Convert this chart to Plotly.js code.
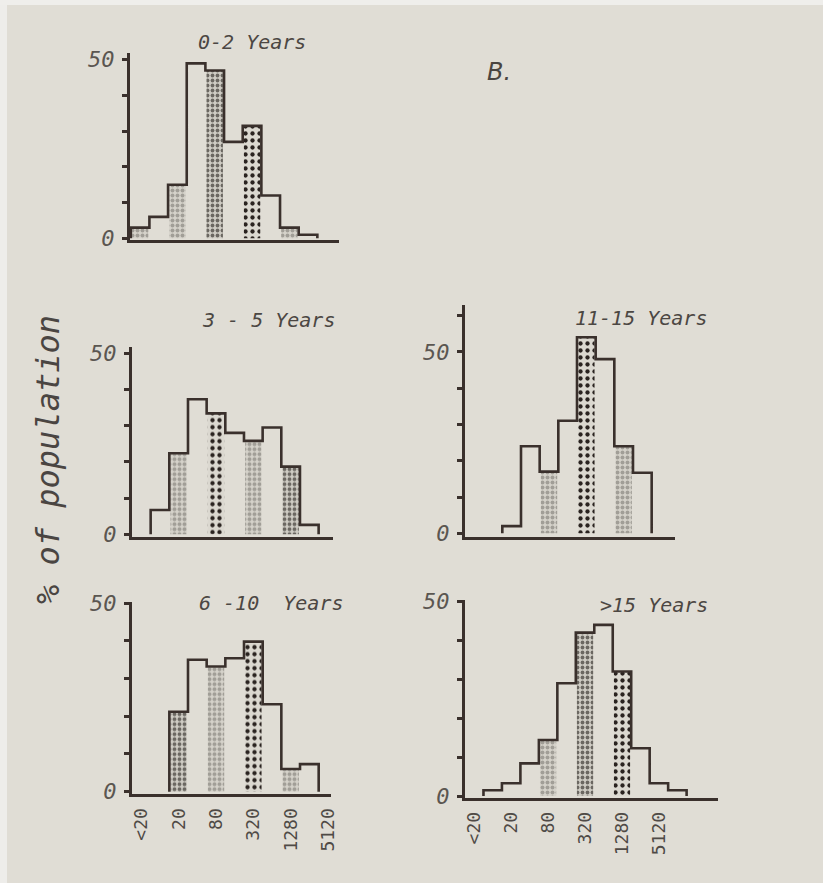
<!DOCTYPE html>
<html>
<head>
<meta charset="utf-8">
<script src="https://cdn.plot.ly/plotly-3.0.1.min.js"></script>
<style>
  html, body { margin: 0; padding: 0; background: #e0ddd5; }
  #chart { width: 823px; height: 883px; }
</style>
</head>
<body>
<div id="chart"></div>
<script>
// ---- Data (percent of population per titre bin; bins are successive 2-fold dilutions) ----
const tickLabels = ['<20', '20', '80', '320', '1280', '5120'];
const tickBins   = [0, 2, 4, 6, 8, 10];

const titles = ['0-2 Years', '3 - 5 Years', '11-15 Years', '6 -10  Years', '>15 Years'];

const age0to2   = [3, 6, 15, 49, 47, 27, 31.5, 12, 3, 1];
const age3to5   = [0, 6.7, 22.4, 37.3, 33.4, 28, 25.8, 29.5, 18.7, 2.6];
const age11to15 = [0, 0, 2, 24, 17, 31, 54, 48, 24, 16.7];
const age6to10  = [0, 0, 21.2, 35, 33.2, 35.4, 39.8, 23.2, 6, 7.3];
const ageOver15 = [0, 1.5, 3.3, 8.4, 14.4, 29, 42, 44, 32, 12.3, 3.3, 1.5];

// ---- Styling / layout (not data) ----
const W = 823, H = 883;
const ink = '#3a302c';
const patterns = {
  light:  { shape: '.', fgcolor: '#a19e97', bgcolor: '#d5d2ca', size: 5, solidity: 0.5, fillmode: 'replace' },
  medium: { shape: '.', fgcolor: '#6b6761', bgcolor: '#cfccc4', size: 5, solidity: 0.45, fillmode: 'replace' },
  dark:   { shape: '.', fgcolor: '#2a2320', bgcolor: '#dbd8d0', size: 7, solidity: 0.3, fillmode: 'replace' }
};
// shading of bins per panel (style only)
const shading = [
  {0: 'light', 2: 'light', 4: 'medium', 6: 'dark', 8: 'light'},
  {2: 'light', 4: 'dark', 6: 'light', 8: 'medium'},
  {4: 'light', 6: 'dark', 8: 'light'},
  {2: 'medium', 4: 'light', 6: 'dark', 8: 'light'},
  {4: 'light', 6: 'medium', 8: 'dark'}
];

const panels = [
  { data: age0to2,   px: [130, 339], py: [53, 240],    xr: [-0.54, 10.66], yr: [-0.48, 51.9], ymaxTick: 50, xlabels: false,
    title: [252, 42] },
  { data: age3to5,   px: [132, 333], py: [346.7, 536.7], xr: [-0.5, 10.27], yr: [-0.66, 51.8], ymaxTick: 50, xlabels: false,
    title: [268, 320] },
  { data: age11to15, px: [465, 675], py: [305, 536.7], xr: [-0.5, 10.75], yr: [-0.92, 62.9], ymaxTick: 60, xlabels: false,
    title: [641, 318] },
  { data: age6to10,  px: [132, 331], py: [601.7, 794], xr: [-0.5, 10.16], yr: [-0.62, 50.4], ymaxTick: 50, xlabels: true,
    title: [271, 603] },
  { data: ageOver15, px: [465, 718], py: [600, 797.7], xr: [-0.5, 13.2], yr: [-0.43, 50.4], ymaxTick: 50, xlabels: true,
    title: [654, 605] }
];

const traces = [];
const layout = {
  width: W, height: H,
  margin: { l: 0, r: 0, t: 0, b: 0 },
  paper_bgcolor: '#e0ddd5',
  plot_bgcolor: 'rgba(0,0,0,0)',
  showlegend: false,
  barmode: 'overlay',
  annotations: [],
  shapes: [
    { type: 'rect', xref: 'paper', yref: 'paper', x0: 0, x1: 7 / W, y0: 0, y1: 1,
      fillcolor: '#eeedea', line: { width: 0 }, layer: 'below' },
    { type: 'rect', xref: 'paper', yref: 'paper', x0: 0, x1: 1, y0: 1 - 5 / H, y1: 1,
      fillcolor: '#efeeeb', line: { width: 0 }, layer: 'below' }
  ]
};

const tickFont = { family: 'DejaVu Sans Mono', size: 22, color: '#5b5651', style: 'italic' };
const xTickFont = { family: 'DejaVu Sans Mono', size: 18, color: '#4f4a46' };
const titleFont = { family: 'DejaVu Sans Mono', size: 20, color: '#4c4743', style: 'italic' };

panels.forEach((p, k) => {
  const n = k + 1;
  const xa = 'x' + (n === 1 ? '' : n), ya = 'y' + (n === 1 ? '' : n);
  const vals = p.data;

  // shaded bins
  const groups = {};
  Object.keys(shading[k]).forEach(b => {
    const s = shading[k][b];
    (groups[s] = groups[s] || []).push(+b);
  });
  Object.keys(groups).forEach(s => {
    const xs = groups[s];
    traces.push({
      type: 'bar', x: xs, y: xs.map(i => vals[i]), width: 0.88,
      xaxis: xa, yaxis: ya, hoverinfo: 'skip',
      marker: { color: patterns[s].bgcolor, pattern: patterns[s], line: { width: 0 } }
    });
  });

  // step outline
  let first = vals.findIndex(v => v > 0);
  const sx = [first - 0.5], sy = [0];
  for (let i = first; i < vals.length; i++) { sx.push(i - 0.5); sy.push(vals[i]); }
  sx.push(vals.length - 0.5); sy.push(0);
  traces.push({
    type: 'scatter', mode: 'lines', x: sx, y: sy, xaxis: xa, yaxis: ya,
    line: { shape: 'hv', color: ink, width: 2.6 }, hoverinfo: 'skip'
  });

  const yTickVals = [], yTickText = [];
  for (let v = 0; v <= p.ymaxTick; v += 10) { yTickVals.push(v); yTickText.push(v === 0 || v === 50 ? String(v) : ''); }

  layout['xaxis' + (n === 1 ? '' : n)] = {
    domain: [p.px[0] / W, p.px[1] / W], anchor: ya,
    range: p.xr, showgrid: false, zeroline: false,
    showline: true, linecolor: ink, linewidth: 3,
    ticks: '', tickmode: 'array', tickvals: tickBins, ticktext: tickLabels,
    showticklabels: p.xlabels, tickangle: -90, tickfont: xTickFont, ticklabelstandoff: 4
  };
  layout['yaxis' + (n === 1 ? '' : n)] = {
    domain: [1 - p.py[1] / H, 1 - p.py[0] / H], anchor: xa,
    range: p.yr, showgrid: false, zeroline: false,
    showline: true, linecolor: ink, linewidth: 3,
    ticks: 'outside', ticklen: 5, tickwidth: 3, tickcolor: ink,
    tickmode: 'array', tickvals: yTickVals, ticktext: yTickText,
    tickfont: tickFont, ticklabelstandoff: 3
  };

  layout.annotations.push({
    xref: 'paper', yref: 'paper', x: p.title[0] / W, y: 1 - p.title[1] / H,
    xanchor: 'center', yanchor: 'middle', showarrow: false,
    text: titles[k], font: titleFont
  });
});

layout.annotations.push({
  xref: 'paper', yref: 'paper', x: 499 / W, y: 1 - 72 / H,
  xanchor: 'center', yanchor: 'middle', showarrow: false,
  text: 'B.', font: { family: 'DejaVu Sans', size: 24, color: '#4a4541', style: 'italic' }
});
layout.annotations.push({
  xref: 'paper', yref: 'paper', x: 48 / W, y: 1 - 460 / H,
  xanchor: 'center', yanchor: 'middle', showarrow: false, textangle: -90,
  text: '% of population', font: { family: 'DejaVu Sans Mono', size: 32, color: '#4a4542', style: 'italic' }
});

Plotly.newPlot('chart', traces, layout, { staticPlot: true, displayModeBar: false });
</script>
</body>
</html>
